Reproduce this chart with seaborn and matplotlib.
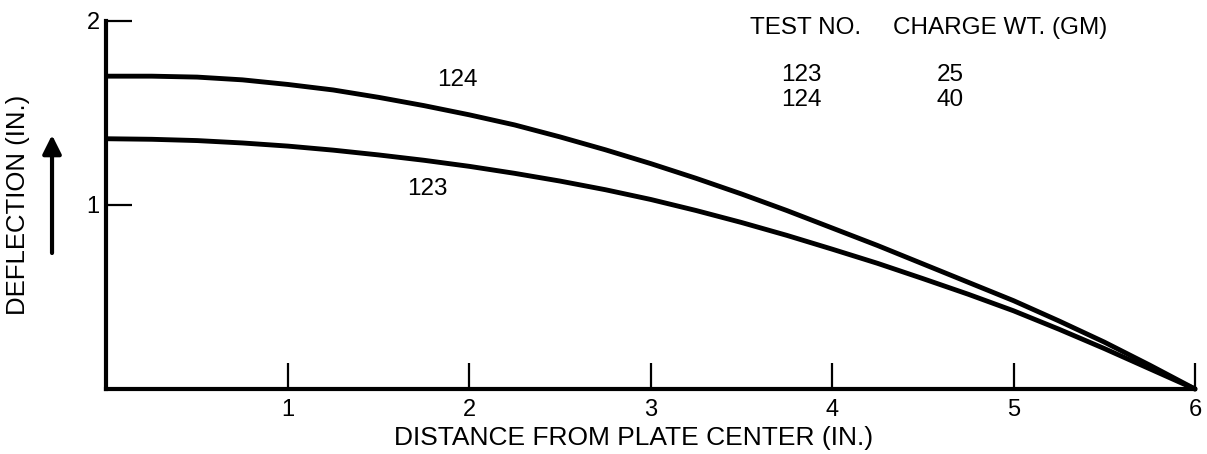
import numpy as np
import pandas as pd
import matplotlib
matplotlib.use("Agg")
import matplotlib.pyplot as plt
import seaborn as sns

# distance from plate center (in.)
distance = [0.0, 0.25, 0.5, 0.75, 1.0, 1.25, 1.5, 1.75, 2.0, 2.25, 2.5, 2.75, 3.0,
            3.25, 3.5, 3.75, 4.0, 4.25, 4.5, 4.75, 5.0, 5.25, 5.5, 5.75, 6.0]
# deflection (in.)
defl_123 = [1.36, 1.357, 1.35, 1.337, 1.32, 1.298, 1.272, 1.243, 1.21, 1.172, 1.13, 1.083, 1.03,
            0.97, 0.905, 0.835, 0.76, 0.683, 0.60, 0.515, 0.425, 0.325, 0.22, 0.11, 0.0]
defl_124 = [1.70, 1.70, 1.695, 1.68, 1.655, 1.625, 1.585, 1.54, 1.49, 1.435, 1.37, 1.30, 1.225,
            1.145, 1.06, 0.97, 0.875, 0.78, 0.68, 0.58, 0.48, 0.37, 0.255, 0.13, 0.0]

test_nos = ["123", "124"]
charge_wts = ["25", "40"]

df = pd.concat([
    pd.DataFrame({"distance": distance, "deflection": defl_123, "test": "123"}),
    pd.DataFrame({"distance": distance, "deflection": defl_124, "test": "124"}),
])

sns.set_theme(style="ticks", rc={"text.color": "black", "axes.labelcolor": "black",
                                 "xtick.color": "black", "ytick.color": "black",
                                 "axes.edgecolor": "black"})
plt.rcParams["font.family"] = ["Liberation Sans", "DejaVu Sans"]

fig = plt.figure(figsize=(12.07, 4.54), dpi=100)
ax = fig.add_axes([0.0882, 0.1432, 0.9018, 0.8106])

sns.lineplot(data=df, x="distance", y="deflection", hue="test",
             palette={"123": "black", "124": "black"}, linewidth=3.5,
             legend=False, ax=ax, clip_on=False, solid_joinstyle="round")

ax.set_xlim(0, 6)
ax.set_ylim(0, 2)
ax.set_xticks([1, 2, 3, 4, 5, 6])
ax.set_yticks([1, 2])
ax.tick_params(axis="both", direction="in", length=19, width=1.6,
               bottom=True, left=True, top=False, right=False,
               colors="black", labelsize=17)
ax.tick_params(axis="x", pad=7)
ax.tick_params(axis="y", pad=5)

sns.despine(ax=ax)
for s in ["left", "bottom"]:
    ax.spines[s].set_linewidth(3)
    ax.spines[s].set_color("black")

ax.set_xlabel("DISTANCE FROM PLATE CENTER (IN.)", fontsize=19, color="black")
ax.set_ylabel("DEFLECTION (IN.)", fontsize=18.5, color="black")
ax.xaxis.set_label_coords(0.4846, -0.1)
ax.yaxis.set_label_coords(-0.070, 0.5)

# curve labels
ax.text(1.82, 1.68, "124", fontsize=17.5, va="center", ha="left")
ax.text(1.66, 1.087, "123", fontsize=17.5, va="center", ha="left")

# table of tests
ax.text(3.545, 1.96, "TEST NO.", fontsize=17.5, va="center", ha="left")
ax.text(4.333, 1.96, "CHARGE WT. (GM)", fontsize=17.5, va="center", ha="left")
for i, (t, w) in enumerate(zip(test_nos, charge_wts)):
    yy = 1.707 - i * 0.137
    ax.text(3.72, yy, t, fontsize=17.5, va="center", ha="left")
    ax.text(4.576, yy, w, fontsize=17.5, va="center", ha="left")

# arrow beside the y label
ax.annotate("", xy=(0.0431, 0.7026), xytext=(0.0431, 0.4427),
            xycoords="figure fraction", textcoords="figure fraction",
            arrowprops=dict(arrowstyle="-|>", lw=3, color="black",
                            mutation_scale=28, shrinkA=0, shrinkB=0),
            annotation_clip=False)

fig.savefig("out.png", dpi=100, facecolor="white")
